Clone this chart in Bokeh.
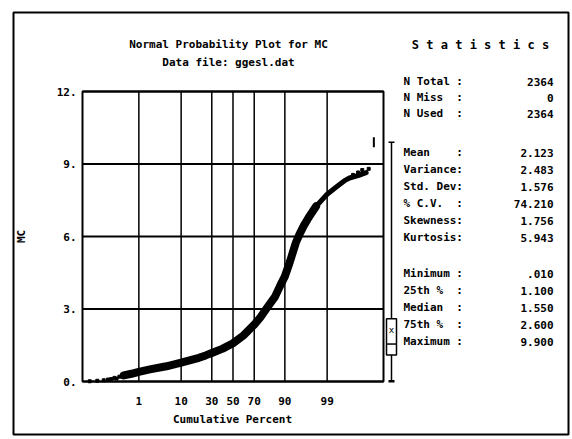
import math
from statistics import NormalDist
from bokeh.plotting import figure
from bokeh.models import Range1d
from bokeh.core.properties import value
from bokeh.embed import file_html
from bokeh.resources import INLINE

# ---------------- data ----------------
title_lines = ["Normal Probability Plot for MC", "Data file: ggesl.dat"]
y_label = "MC"
x_label = "Cumulative Percent"
x_tick_pct = [1, 10, 30, 50, 70, 90, 99]
y_ticks = [0, 3, 6, 9, 12]
y_tick_labels = ["0.", "3.", "6.", "9.", "12."]

# dense body of the sorted data (cumulative percent, MC value)
band_pct = [0.35, 0.6, 1, 2, 5, 10, 20, 25, 30, 40, 50, 60, 70, 75, 80, 85, 88, 90, 92, 94, 95, 96, 97, 98]
band_val = [0.25, 0.32, 0.4, 0.5, 0.63, 0.78, 0.98, 1.08, 1.18, 1.36, 1.58, 1.9, 2.35, 2.65, 3.05, 3.5, 4.0, 4.35, 4.95, 5.75, 6.1, 6.45, 6.82, 7.25]
# upper, thinner part of the curve
upper_pct = [98, 99, 99.5, 99.7, 99.8, 99.9, 99.95]
upper_val = [7.25, 7.75, 8.08, 8.3, 8.42, 8.52, 8.64]
# sparse tail points
tail_pct = [0.02, 0.04, 0.07, 0.1, 0.13, 0.17, 0.2, 0.25, 0.3, 99.85, 99.9, 99.93, 99.96]
tail_val = [0.01, 0.03, 0.05, 0.08, 0.1, 0.15, 0.12, 0.2, 0.22, 8.55, 8.65, 8.75, 8.8]
max_pct = [99.975]
max_val = [9.9]

stat_header = "S t a t i s t i c s"
stat_names = ["N Total", "N Miss", "N Used",
              "Mean", "Variance", "Std. Dev", "% C.V.", "Skewness", "Kurtosis",
              "Minimum", "25th %", "Median", "75th %", "Maximum"]
stat_values = ["2364", "0", "2364",
               "2.123", "2.483", "1.576", "74.210", "1.756", "5.943",
               ".010", "1.100", "1.550", "2.600", "9.900"]

box_min, box_q1, box_med, box_q3, box_max = 0.01, 1.1, 1.55, 2.6, 9.9
box_mean = 2.123

# ---------------- layout (pixel geometry of the page) ----------------
W, H = 572, 439
PL, PR, PT, PB = 82, 383, 91, 381          # plot area edges
Z0, Z1 = -3.719, 3.719                      # normal-score range (0.01% .. 99.99%)
Y0, Y1 = 0.0, 12.0
KX = (Z1 - Z0) / (PR - PL)
KY = (Y1 - Y0) / (PB - PT)
FONT = "DejaVu Sans Mono"

nd = NormalDist()
def pz(p):
    return nd.inv_cdf(p / 100.0)

def px(c):  # page pixel x -> data x
    return Z0 + (c - PL) * KX

def py(c):  # page pixel y -> data y
    return Y0 + (PB - c) * KY

p = figure(width=W, height=H,
           x_range=Range1d(px(0), px(W)), y_range=Range1d(py(H), py(0)),
           output_backend="svg", toolbar_location=None,
           x_axis_location=None, y_axis_location=None,
           min_border=0)
p.min_border_left = p.min_border_right = p.min_border_top = p.min_border_bottom = 0
p.background_fill_color = "white"
p.border_fill_color = "white"
p.outline_line_color = None
p.grid.visible = False

xt = [pz(v) for v in x_tick_pct]

# grid lines
p.segment(x0=[Z0] * len(y_ticks), y0=y_ticks, x1=[Z1] * len(y_ticks), y1=y_ticks,
          line_color="black", line_width=2)
p.segment(x0=xt, y0=[Y0] * len(xt), x1=xt, y1=[Y1] * len(xt),
          line_color="black", line_width=1.5)
# plot border
p.quad(left=[Z0], right=[Z1], bottom=[Y0], top=[Y1], fill_color=None,
       line_color="black", line_width=2)

def txt(x, y, t, align="left", size="11px", angle=0.0):
    p.text(x=x, y=y, text=t, text_align=align, text_baseline="middle",
           text_font=value(FONT), text_font_style="bold",
           text_font_size=size, text_color="black", angle=angle)

# tick labels and axis labels
txt([px(76)] * len(y_ticks), y_ticks, y_tick_labels, "right")
txt(xt, [py(400)] * len(xt), [str(v) for v in x_tick_pct], "center")
txt([px(232)], [py(419)], [x_label], "center")
txt([px(21)], [py(236)], [y_label], "center", angle=math.pi / 2)

# probability plot
p.line([pz(v) for v in band_pct], band_val, line_width=8, color="black",
       line_join="round", line_cap="round")
p.line([pz(v) for v in upper_pct], upper_val, line_width=5, color="black",
       line_join="round", line_cap="round")
p.scatter([pz(v) for v in tail_pct], tail_val, marker="square", size=3, color="black")
p.scatter([pz(v) for v in max_pct], max_val, marker="dash", angle=math.pi / 2,
          size=10, line_width=2, color="black")

# box plot (right of the plot area)
bx, bl, br = px(391), px(386), px(396)
cl, cr = px(388), px(394)
p.segment(x0=[bx], y0=[box_min], x1=[bx], y1=[box_max], line_color="black", line_width=1.5)
p.segment(x0=[cl, cl], y0=[box_min, box_max], x1=[cr, cr], y1=[box_min, box_max],
          line_color="black", line_width=[2.5, 1.5])
p.quad(left=[bl], right=[br], bottom=[box_q1], top=[box_q3], fill_color="white",
       line_color="black", line_width=1.5)
p.segment(x0=[bl], y0=[box_med], x1=[br], y1=[box_med], line_color="black", line_width=1.5)
p.text(x=[bx], y=[box_mean], text=["x"], text_align="center", text_baseline="middle",
       text_font=value(FONT), text_font_size="9px", text_color="black")

# outer frame
p.quad(left=[px(13)], right=[px(568)], top=[py(12)], bottom=[py(434)],
       fill_color=None, line_color="black", line_width=2)

# titles
txt([px(228)] * 2, [py(44), py(62)], title_lines, "center")
txt([px(480)], [py(44)], [stat_header], "center", "12px")

rows = [81, 97, 113, 152, 169, 186, 203, 220, 237, 273, 290, 307, 324, 341]
ry = [py(r) for r in rows]
txt([px(403)] * len(rows), ry, stat_names, "left")
txt([px(459)] * len(rows), ry, [":"] * len(rows), "center")
txt([px(553)] * len(rows), ry, stat_values, "right")

open("out.html", "w").write(file_html(p, INLINE))
